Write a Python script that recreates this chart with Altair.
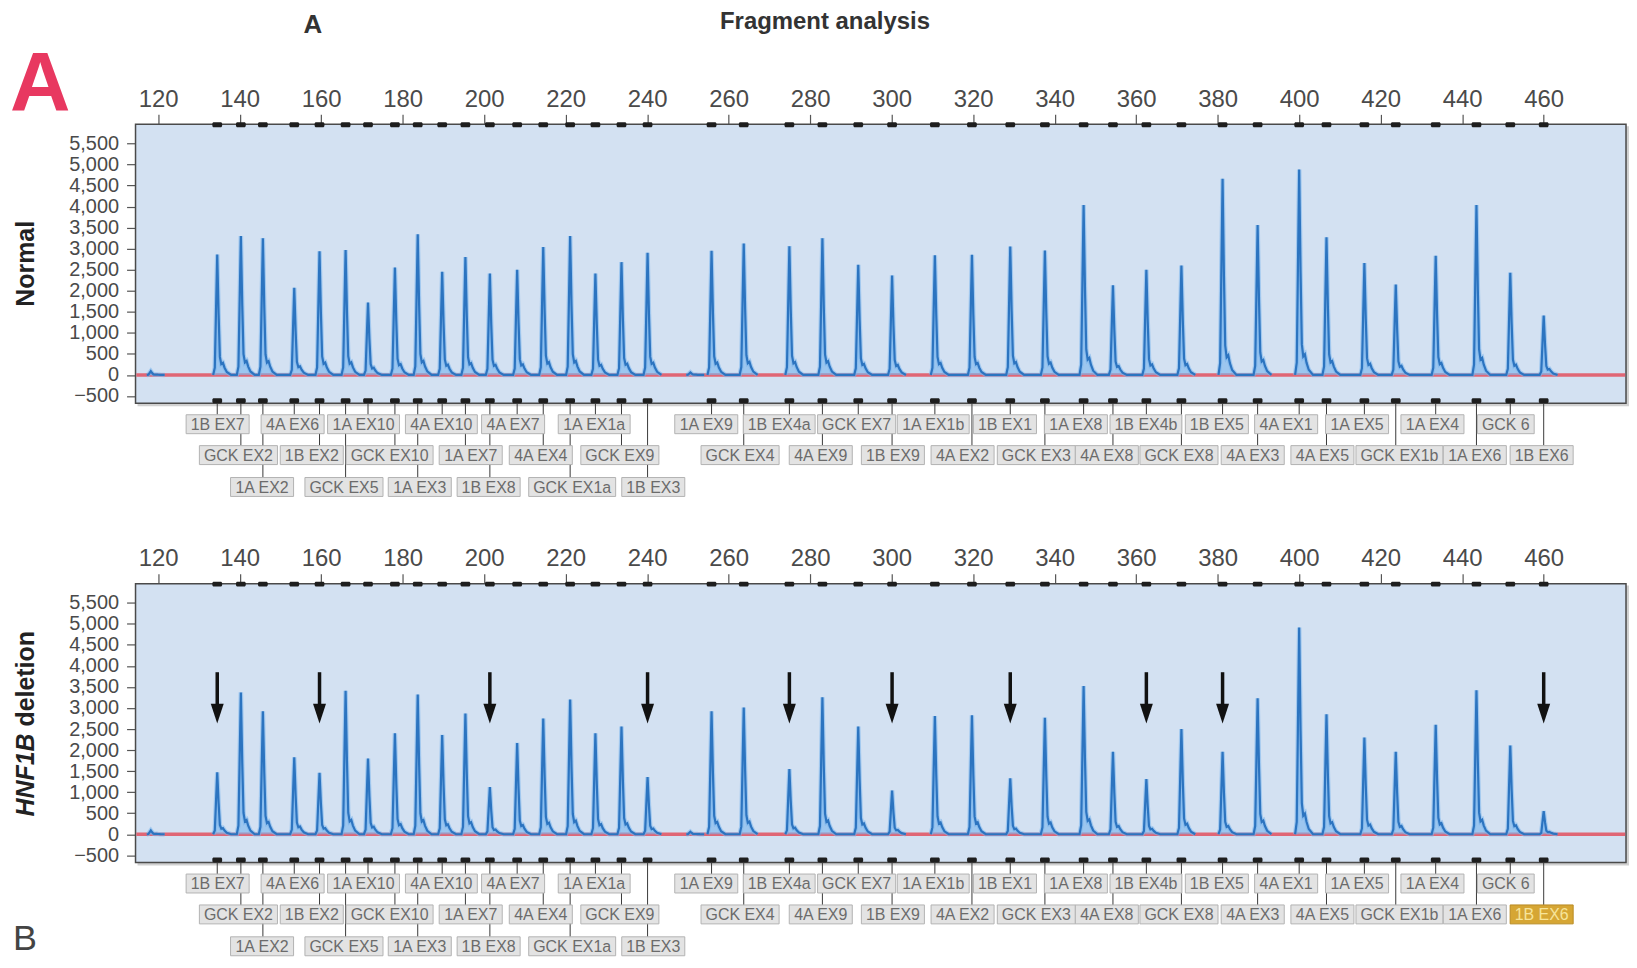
import altair as alt
import pandas as pd

# ----------------- values -----------------
x_ticks = [120, 140, 160, 180, 200, 220, 240, 260, 280, 300, 320, 340, 360, 380, 400, 420, 440, 460]
y_ticks = [-500, 0, 500, 1000, 1500, 2000, 2500, 3000, 3500, 4000, 4500, 5000, 5500]

peak_size = [134.5, 140.3, 145.7, 153.4, 159.6, 166.0, 171.5, 178.1, 183.7, 189.7,
             195.4, 201.4, 208.1, 214.5, 221.1, 227.3, 233.7, 240.1,
             255.8, 263.7, 274.9, 283.0, 291.8, 300.1, 310.6, 319.7, 329.1, 337.6,
             347.1, 354.3, 362.5, 371.1, 381.2, 389.8, 400.0, 406.7, 416.0, 423.7,
             433.5, 443.5, 451.8, 460.0]

exon_label = ["1B EX7", "GCK EX2", "1A EX2", "4A EX6", "1B EX2", "GCK EX5", "1A EX10", "GCK EX10",
              "1A EX3", "4A EX10", "1A EX7", "1B EX8", "4A EX7", "4A EX4", "GCK EX1a", "1A EX1a",
              "GCK EX9", "1B EX3",
              "1A EX9", "GCK EX4", "1B EX4a", "4A EX9", "GCK EX7", "1B EX9", "1A EX1b", "4A EX2",
              "1B EX1", "GCK EX3", "1A EX8", "4A EX8", "1B EX4b", "GCK EX8", "1B EX5", "4A EX3",
              "4A EX1", "4A EX5", "1A EX5", "GCK EX1b", "1A EX4", "1A EX6", "GCK 6", "1B EX6"]

label_row = [1, 2, 3] * 6 + [1, 2] * 12

label_center = [134.6, 139.7, 145.5, 153.0, 157.7, 165.6, 170.4, 176.8, 184.2, 189.5,
                196.7, 201.1, 207.1, 213.9, 221.6, 227.0, 233.3, 241.5,
                254.5, 262.8, 272.4, 282.6, 291.4, 300.3, 310.2, 317.4, 327.8, 335.5,
                345.2, 352.8, 362.4, 370.5, 379.8, 388.6, 396.8, 405.7, 414.2, 424.6,
                432.7, 443.1, 450.7, 459.5]

normal_height = [2860, 3300, 3250, 2070, 2940, 2970, 1720, 2550, 3340, 2450,
                 2800, 2410, 2500, 3040, 3300, 2410, 2680, 2900,
                 2950, 3120, 3060, 3250, 2615, 2365, 2845, 2855, 3050, 2955,
                 4040, 2130, 2500, 2600, 4660, 3560, 4880, 3270, 2660, 2150,
                 2830, 4040, 2430, 1410]

deletion_height = [1470, 3370, 2920, 1830, 1460, 3410, 1800, 2400, 3320, 2360,
                   2870, 1120, 2170, 2750, 3200, 2400, 2560, 1360,
                   2920, 3010, 1550, 3255, 2560, 1040, 2810, 2825, 1330, 2770,
                   3520, 1960, 1310, 2500, 1960, 3230, 4910, 2850, 2300, 1960,
                   2600, 3420, 2110, 550]

noise_size = [118.2, 250.6]
noise_height = [90, 60]

arrow_top = 3850
arrow_tip = 2630
highlight_label = "1B EX6"

# ----------------- layout / style -----------------
X_DOMAIN = [114.45, 480.2]
Y_DOMAIN = [-674, 5955]
W, H = 1496, 280
PXU = W / (X_DOMAIN[1] - X_DOMAIN[0])
PYU = H / (Y_DOMAIN[1] - Y_DOMAIN[0])
ROW_OFF = {1: 21, 2: 52, 3: 84}
BOX_H = 19
FONT = "Liberation Sans"
BG = "#d3e1f2"
RED = "#e2505f"
TRACE = "#2c74c0"
GLOW = "#78b4ec"

PROFILE = [(-1.0, 0), (-0.6, 0.06), (-0.32, 0.5), (0, 1), (0.34, 0.5), (0.65, 0.15),
           (1.0, 0.09), (1.4, 0.1), (1.8, 0.06), (2.35, 0.025), (3.4, 0)]

CW = {c: 0.556 for c in "0123456789ab"}
CW.update({"A": 0.667, "B": 0.667, "C": 0.722, "E": 0.667, "G": 0.778, "K": 0.667,
           "X": 0.667, " ": 0.278, "H": 0.722, "N": 0.722, "F": 0.611})


def text_px(s, fs=16):
    return sum(CW.get(c, 0.6) for c in s) * fs


xs = alt.Scale(domain=X_DOMAIN, nice=False, zero=False)
ys = alt.Scale(domain=Y_DOMAIN, nice=False, zero=False)

XAXIS = alt.Axis(orient="top", values=x_ticks, title=None, grid=False, domain=False,
                 tickSize=10, tickColor="#555", tickWidth=1.2, labelFontSize=24,
                 labelColor="#4a4a4a", labelPadding=3, labelOverlap=False,
                 labelFlush=False, labelFont=FONT)
YAXIS = alt.Axis(orient="left", values=y_ticks, labelExpr="format(datum.value, ',')",
                 title=None, grid=False,
                 domain=False, tickSize=9, tickColor="#555", tickWidth=1.2,
                 labelFontSize=20, labelColor="#4a4a4a", labelPadding=8,
                 labelOverlap=False, labelFont=FONT)


def X(f):
    return alt.X(f, scale=xs, axis=XAXIS)


def Y(f):
    return alt.Y(f, scale=ys, axis=YAXIS)


def trace_df(heights):
    rows = []
    seg = 0
    prev = None
    for p, h in zip(peak_size, heights):
        if prev is not None and p - prev > 10:
            seg += 1
        for dx, f in PROFILE:
            rows.append({"x": p + dx, "y": h * f, "seg": seg})
        prev = p
    for i, (p, h) in enumerate(zip(noise_size, noise_height)):
        for dx, f in PROFILE:
            rows.append({"x": p + dx, "y": h * f, "seg": 100 + i})
    df = pd.DataFrame(rows)
    df["y0"] = 0
    return df


def label_df(highlight=None):
    rows = []
    for p, t, r, c in zip(peak_size, exon_label, label_row, label_center):
        half = (text_px(t) + 9) / 2 / PXU
        hl = (t == highlight)
        rows.append(dict(px=p, text=t, row=r, lx=c, x1=c - half, x2=c + half,
                         m1=p - 1.2, m2=p + 1.2,
                         fillc="#d6a634" if hl else "#e3e3e3",
                         strokec="#b98b22" if hl else "#b3b3b3",
                         tcol="#f7e49a" if hl else "#6b6b6b",
                         is1b=t.startswith("1B")))
    return pd.DataFrame(rows)


one = pd.DataFrame({"a": [0]})


def panel(heights, which):
    tr = trace_df(heights)
    lab = label_df(highlight_label if which == "B" else None)
    layers = []

    # frame shadow + background
    layers.append(alt.Chart(one).mark_rect(fill="#9a9a9a", opacity=0.45).encode(
        x=alt.value(2), x2=alt.value(W + 3), y=alt.value(2), y2=alt.value(H + 3)))
    layers.append(alt.Chart(one).mark_rect(fill=BG, stroke="#4a4a4a", strokeWidth=1.5).encode(
        x=alt.value(0), x2=alt.value(W), y=alt.value(0), y2=alt.value(H)))

    # red zero line
    base = pd.DataFrame({"x1": [X_DOMAIN[0] + 0.2], "x2": [X_DOMAIN[1] - 0.2], "y": [0]})
    layers.append(alt.Chart(base).mark_rule(color=RED, strokeWidth=3.5, opacity=0.85).encode(
        x=X("x1:Q"), x2="x2:Q", y=Y("y:Q")))

    # trace
    layers.append(alt.Chart(tr).mark_line(color=GLOW, strokeWidth=4.5, opacity=0.55).encode(
        x=X("x:Q"), y=Y("y:Q"), detail="seg:N"))
    layers.append(alt.Chart(tr).mark_area(color=GLOW, opacity=0.6).encode(
        x=X("x:Q"), y=Y("y:Q"), y2="y0:Q", detail="seg:N"))
    layers.append(alt.Chart(tr).mark_line(color=TRACE, strokeWidth=2.2).encode(
        x=X("x:Q"), y=Y("y:Q"), detail="seg:N"))

    # bin markers on top and bottom border
    layers.append(alt.Chart(lab).mark_rect(color="#1e1e1e", cornerRadius=1.5).encode(
        x=X("m1:Q"), x2="m2:Q", y=alt.value(-2), y2=alt.value(3)))
    layers.append(alt.Chart(lab).mark_rect(color="#1e1e1e", cornerRadius=1.5).encode(
        x=X("m1:Q"), x2="m2:Q", y=alt.value(H - 5), y2=alt.value(H)))

    # connectors, boxes, texts
    for r in (1, 2, 3):
        sub = lab[lab["row"] == r]
        layers.append(alt.Chart(sub).mark_rule(color="#3a3a3a", strokeWidth=1).encode(
            x=X("px:Q"), y=alt.value(H), y2=alt.value(H + ROW_OFF[r] - BOX_H / 2)))
    for r in (1, 2, 3):
        sub = lab[lab["row"] == r]
        layers.append(alt.Chart(sub).mark_rect(strokeWidth=1).encode(
            x=X("x1:Q"), x2="x2:Q",
            y=alt.value(H + ROW_OFF[r] - BOX_H / 2), y2=alt.value(H + ROW_OFF[r] + BOX_H / 2),
            fill=alt.Fill("fillc:N", scale=None), stroke=alt.Stroke("strokec:N", scale=None)))
    for r in (1, 2, 3):
        sub = lab[lab["row"] == r]
        layers.append(alt.Chart(sub).mark_text(fontSize=16, font=FONT, baseline="middle").encode(
            x=X("lx:Q"), y=alt.value(H + ROW_OFF[r] + 1), text="text:N",
            color=alt.Color("tcol:N", scale=None)))

    txt = dict(font=FONT)
    if which == "A":
        layers.append(alt.Chart(one).mark_text(text="Normal", angle=270, fontSize=25,
                                               fontWeight="bold", color="#222", align="center",
                                               baseline="middle", **txt).encode(
            x=alt.value(-110), y=alt.value(H / 2)))
        layers.append(alt.Chart(one).mark_text(text="Fragment analysis", fontSize=24,
                                               fontWeight="bold", color="#333", align="center",
                                               baseline="alphabetic", **txt).encode(
            x=alt.value(692), y=alt.value(-96)))
        layers.append(alt.Chart(one).mark_text(text="A", fontSize=26, fontWeight="bold",
                                               color="#333", align="center",
                                               baseline="alphabetic", **txt).encode(
            x=alt.value(178), y=alt.value(-92)))
        layers.append(alt.Chart(one).mark_text(text="A", fontSize=84, fontWeight="bold",
                                               color="#e83860", align="left",
                                               baseline="alphabetic", **txt).encode(
            x=alt.value(-126), y=alt.value(-13)))
        layers.append(alt.Chart(one).mark_point(filled=True, color="white", size=4,
                                                opacity=1).encode(
            x=alt.value(-127), y=alt.value(-112)))
    else:
        fs = 25
        w_h = text_px("HNF1B", fs)
        total = w_h + (0.278 + 3.834) * fs
        junction = H / 2 + total / 2 - w_h
        layers.append(alt.Chart(one).mark_text(text="HNF1B", angle=270, fontSize=fs,
                                               fontWeight="bold", fontStyle="italic",
                                               color="#222", align="right",
                                               baseline="middle", **txt).encode(
            x=alt.value(-110), y=alt.value(junction)))
        layers.append(alt.Chart(one).mark_text(text="deletion", angle=270, fontSize=fs,
                                               fontWeight="bold", color="#222", align="left",
                                               baseline="middle", **txt).encode(
            x=alt.value(-110), y=alt.value(junction - 0.278 * fs)))
        layers.append(alt.Chart(one).mark_text(text="B", fontSize=36, color="#444",
                                               align="left", baseline="alphabetic",
                                               **txt).encode(
            x=alt.value(-123), y=alt.value(368)))
        arr = lab[lab["is1b"]].copy()
        arr["ya"] = arrow_top
        arr["yb"] = arrow_tip + 18 / PYU
        arr["yh"] = arrow_tip + 10 / PYU
        layers.append(alt.Chart(arr).mark_rule(color="#111", strokeWidth=3.5).encode(
            x=X("px:Q"), y=Y("ya:Q"), y2="yb:Q"))
        layers.append(alt.Chart(arr).mark_point(shape="M-0.65,-1L0.65,-1L0,1Z", filled=True,
                                                size=400, color="#111", opacity=1).encode(
            x=X("px:Q"), y=Y("yh:Q")))

    return alt.layer(*layers).properties(width=W, height=H)


chart = alt.vconcat(panel(normal_height, "A"), panel(deletion_height, "B"),
                    spacing=181, bounds="flush").properties(padding=0)
chart = chart.configure(font=FONT).configure_view(stroke=None)
chart.save("out.html", embed_options={"renderer": "svg", "actions": False})
